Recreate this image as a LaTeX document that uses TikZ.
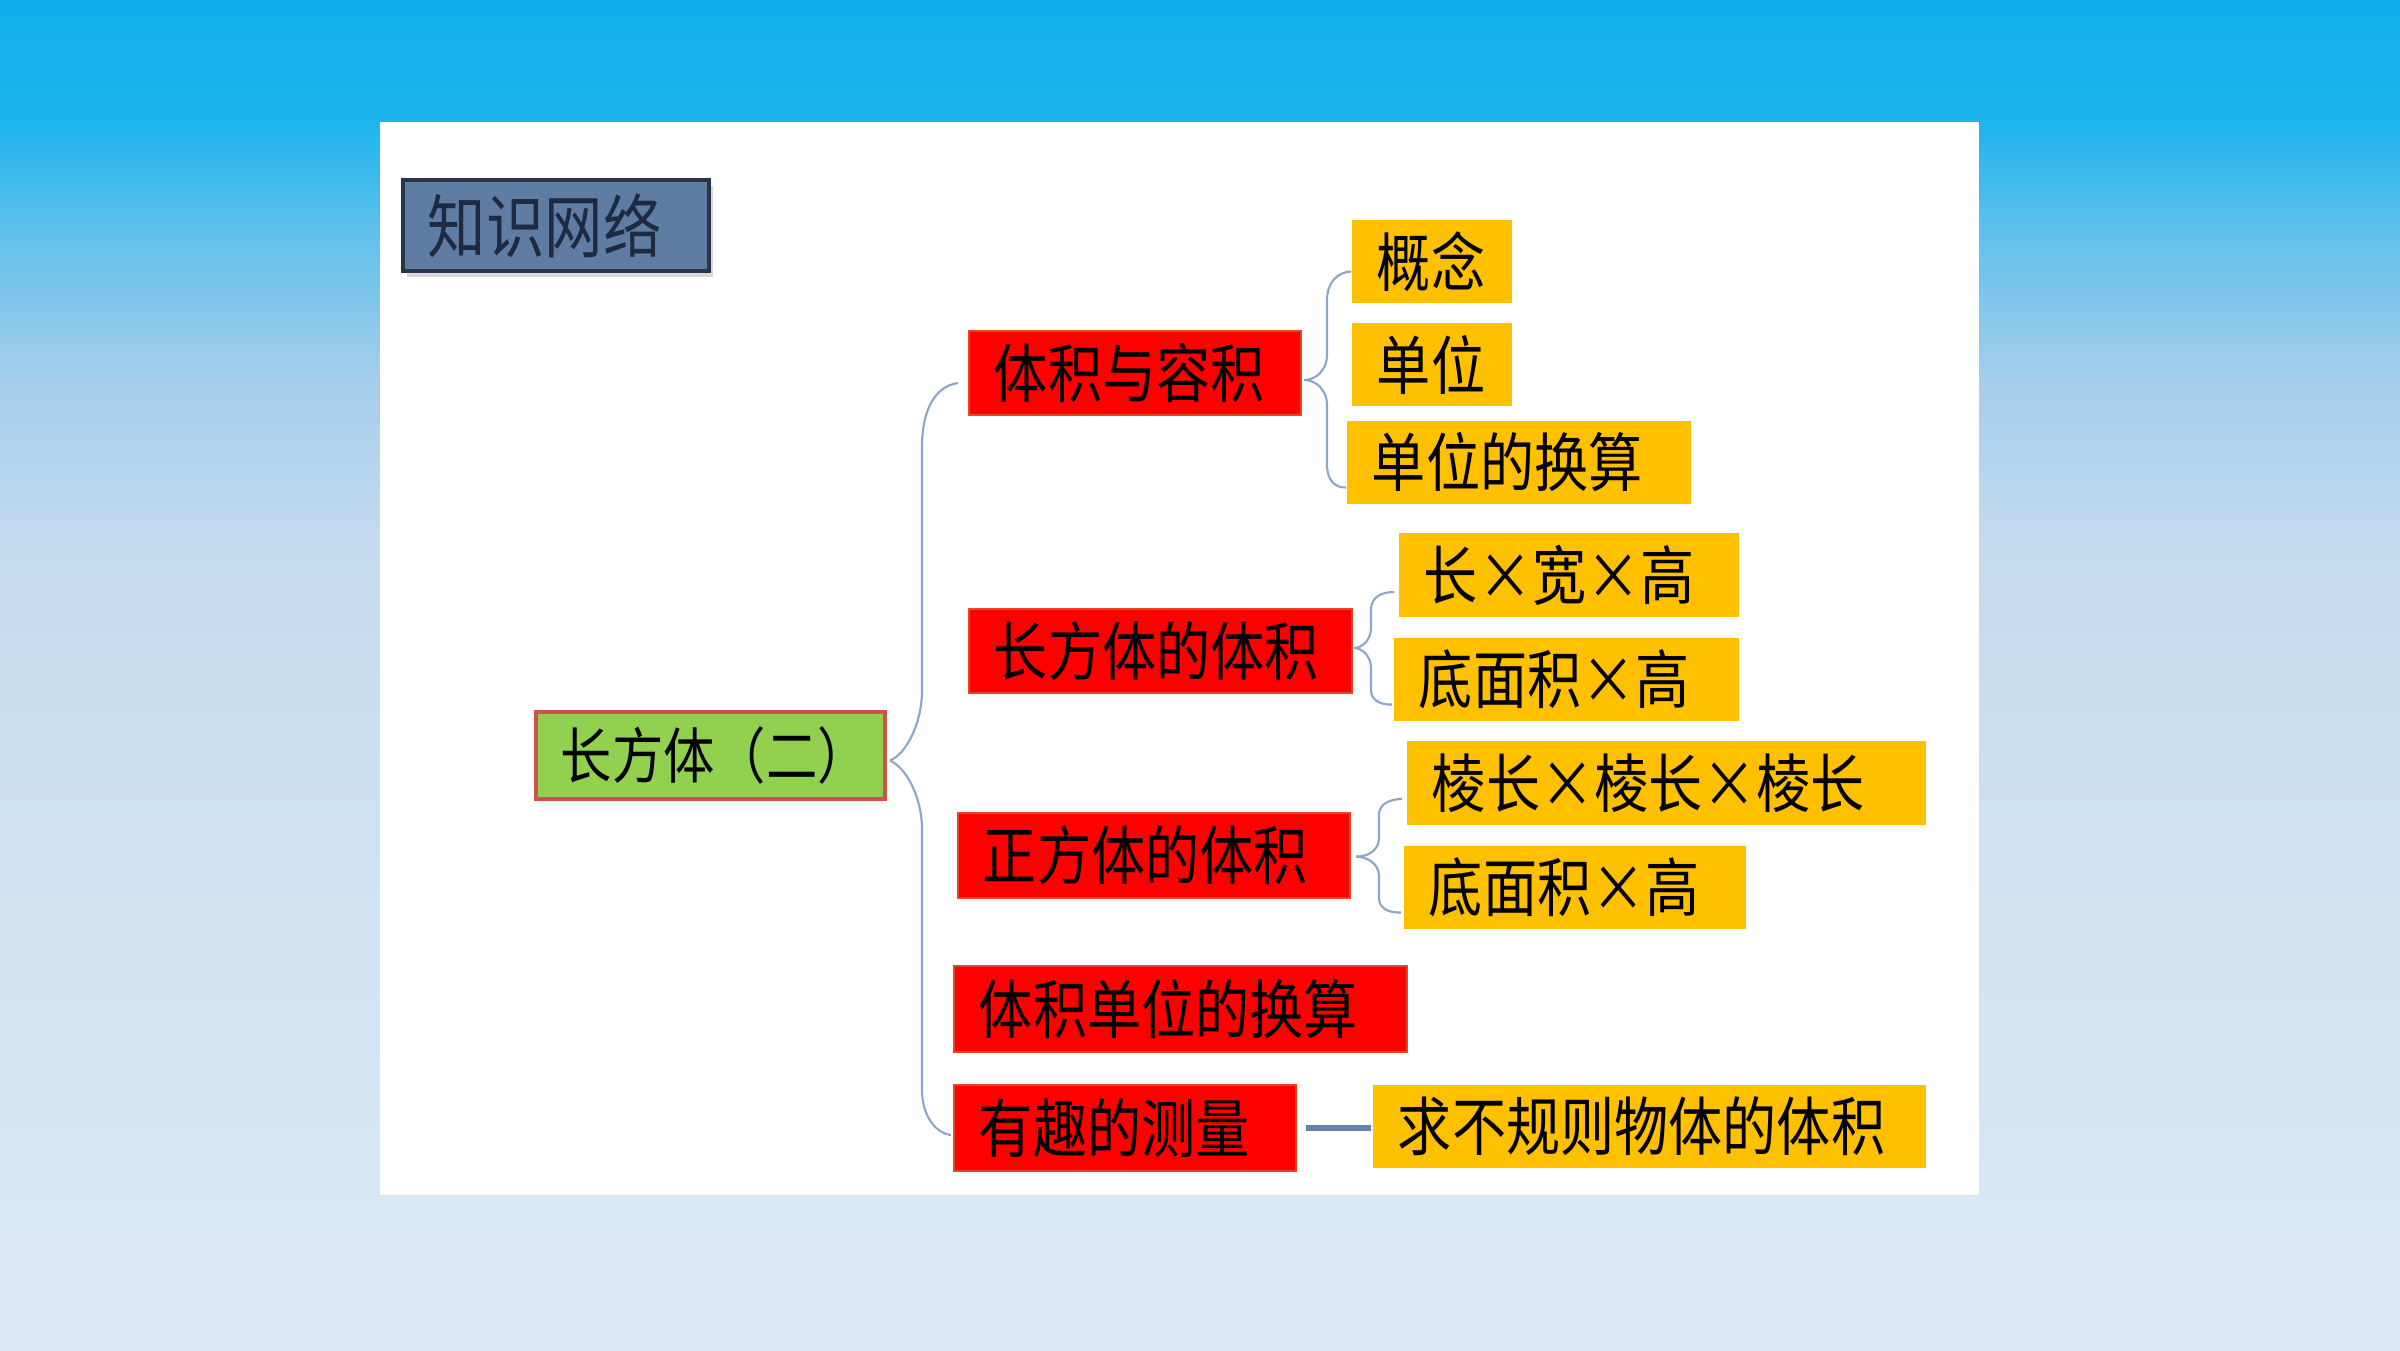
\documentclass[tikz,border=0pt]{standalone}
\usepackage{fontspec}
\usepackage{graphicx}
\newfontfamily\cjk{Noto Sans CJK SC}
\usetikzlibrary{calc,shadows}
\definecolor{bgA}{RGB}{15,176,238}
\definecolor{bgB}{RGB}{28,180,237}
\definecolor{bgC}{RGB}{95,192,236}
\definecolor{bgD}{RGB}{165,206,236}
\definecolor{bgE}{RGB}{196,218,238}
\definecolor{bgF}{RGB}{205,224,240}
\definecolor{bgG}{RGB}{222,233,245}
\definecolor{boxred}{RGB}{255,0,0}
\definecolor{redline}{RGB}{232,70,35}
\definecolor{boxorange}{RGB}{255,192,0}
\definecolor{boxgreen}{RGB}{146,208,80}
\definecolor{rootline}{RGB}{208,80,74}
\definecolor{titlefill}{RGB}{95,124,162}
\definecolor{titleline}{RGB}{40,54,76}
\definecolor{titletext}{RGB}{28,42,66}
\definecolor{braceline}{RGB}{140,165,200}
\definecolor{connline}{RGB}{100,130,175}
\newcommand\mkbox[7]{%
  \pgfmathsetmacro\mbcx{(#3+#5)/2}%
  \pgfmathsetmacro\mbcy{(#4+#6)/2}%
  \pgfmathsetmacro\mbw{(#5-#3)/100}%
  \pgfmathsetmacro\mbh{(#6-#4)/100}%
  \pgfmathsetmacro\mbtw{\mbw-0.5}%
  \node[#2, minimum width=\mbw cm, minimum height=\mbh cm, text width=\mbtw cm] (#1) at (\mbcx,\mbcy) {#7};}
\newcommand\tx[1]{\raisebox{0.04cm}{\scalebox{1}[1.18]{#1}}}
\tikzset{
  anybox/.style={rectangle, inner xsep=0.25cm, inner ysep=0pt, align=left,
    font=\cjk\fontsize{15.4}{18}\selectfont},
  redbox/.style={anybox, fill=boxred, draw=redline, line width=0.5pt},
  orbox/.style={anybox, fill=boxorange},
  rootbox/.style={anybox, fill=boxgreen, draw=rootline, line width=1pt,
    font=\cjk\fontsize{14.6}{18}\selectfont},
  titlebox/.style={anybox, fill=titlefill, draw=titleline, line width=1.2pt,
    text=titletext, font=\cjk\fontsize{16.6}{20}\selectfont,
    drop shadow={opacity=0.3, shadow xshift=0.04cm, shadow yshift=-0.06cm}},
  brace/.style={draw=braceline, line width=0.6pt},
  conn/.style={draw=connline, line width=1.7pt},
}
\begin{document}
\begin{tikzpicture}[x=0.01cm, y=-0.01cm]
\useasboundingbox (0,0) rectangle (2400,1350);
% background
\shade[top color=bgA, bottom color=bgB] (0,0) rectangle (2400,121);
\shade[top color=bgB, bottom color=bgC] (0,120) rectangle (2400,231);
\shade[top color=bgC, bottom color=bgD] (0,230) rectangle (2400,381);
\shade[top color=bgD, bottom color=bgE] (0,380) rectangle (2400,541);
\shade[top color=bgE, bottom color=bgF] (0,540) rectangle (2400,771);
\shade[top color=bgF, bottom color=bgG] (0,770) rectangle (2400,1350);
\fill[white] (380,122) rectangle (1979,1195);
% boxes
\mkbox{title}{titlebox}{403}{180}{709}{271}{\tx{知识网络}}
\mkbox{root}{rootbox}{536}{712}{885}{799}{\tx{长方体（二）}}
\mkbox{r1}{redbox}{969}{331}{1301}{415}{\tx{体积与容积}}
\mkbox{r2}{redbox}{969}{609}{1352}{693}{\tx{长方体的体积}}
\mkbox{r3}{redbox}{958}{813}{1350}{898}{\tx{正方体的体积}}
\mkbox{r4}{redbox}{954}{966}{1407}{1052}{\tx{体积单位的换算}}
\mkbox{r5}{redbox}{954}{1085}{1296}{1171}{\tx{有趣的测量}}
\mkbox{o1}{orbox}{1352}{220}{1512}{303}{\tx{概念}}
\mkbox{o2}{orbox}{1352}{323}{1512}{406}{\tx{单位}}
\mkbox{o3}{orbox}{1347}{421}{1691}{504}{\tx{单位的换算}}
\mkbox{o4}{orbox}{1399}{533}{1739}{617}{\tx{长×宽×高}}
\mkbox{o5}{orbox}{1394}{638}{1739}{721}{\tx{底面积×高}}
\mkbox{o6}{orbox}{1407}{741}{1926}{825}{\tx{棱长×棱长×棱长}}
\mkbox{o7}{orbox}{1404}{846}{1746}{929}{\tx{底面积×高}}
\mkbox{o8}{orbox}{1373}{1085}{1926}{1168}{\tx{求不规则物体的体积}}
% main brace
\coordinate (mtop) at ($(r1.west)+(-10,10)$);
\coordinate (mbot) at ($(r5.west)+(-2,7)$);
\coordinate (mpt) at ($(root.east)+(3,5)$);
\draw[brace] (mpt) .. controls (905,755) and (922,725) .. (922,690)
  -- (922,447) .. controls (922,410) and (935,386) .. (mtop);
\draw[brace] (mpt) .. controls (905,767) and (922,795) .. (922,830)
  -- (922,1090) .. controls (922,1115) and (935,1133) .. (mbot);
% brace 1
\coordinate (b1pt) at ($(r1.east)+(2,7)$);
\coordinate (b1t) at ($(o1.west)+(0,10)$);
\coordinate (b1b) at ($(o3.west)+(0,25)$);
\draw[brace] (b1pt) .. controls (1316,380) and (1327,370) .. (1327,355)
  -- (1327,300) .. controls (1327,283) and (1337,272) .. (b1t);
\draw[brace] (b1pt) .. controls (1316,380) and (1327,390) .. (1327,405)
  -- (1327,465) .. controls (1327,480) and (1335,488) .. (b1b);
% brace 2
\coordinate (b2pt) at ($(r2.east)+(1,-3)$);
\coordinate (b2t) at ($(o4.west)+(-4,17)$);
\coordinate (b2b) at ($(o5.west)+(-1,25)$);
\draw[brace] (b2pt) .. controls (1362,648) and (1371,640) .. (1371,628)
  -- (1371,610) .. controls (1371,598) and (1380,592) .. (b2t);
\draw[brace] (b2pt) .. controls (1362,648) and (1371,656) .. (1371,668)
  -- (1371,690) .. controls (1371,700) and (1380,705) .. (b2b);
% brace 3
\coordinate (b3pt) at ($(r3.east)+(5,1)$);
\coordinate (b3t) at ($(o6.west)+(-4,16)$);
\coordinate (b3b) at ($(o7.west)+(-2,25)$);
\draw[brace] (b3pt) .. controls (1368,857) and (1379,850) .. (1379,838)
  -- (1379,815) .. controls (1379,805) and (1388,799) .. (b3t);
\draw[brace] (b3pt) .. controls (1368,857) and (1379,864) .. (1379,876)
  -- (1379,898) .. controls (1379,908) and (1388,913) .. (b3b);
% connector
\draw[conn, shorten <=0.09cm, shorten >=0.01cm] (r5) -- (r5 -| o8.west);
\end{tikzpicture}
\end{document}
